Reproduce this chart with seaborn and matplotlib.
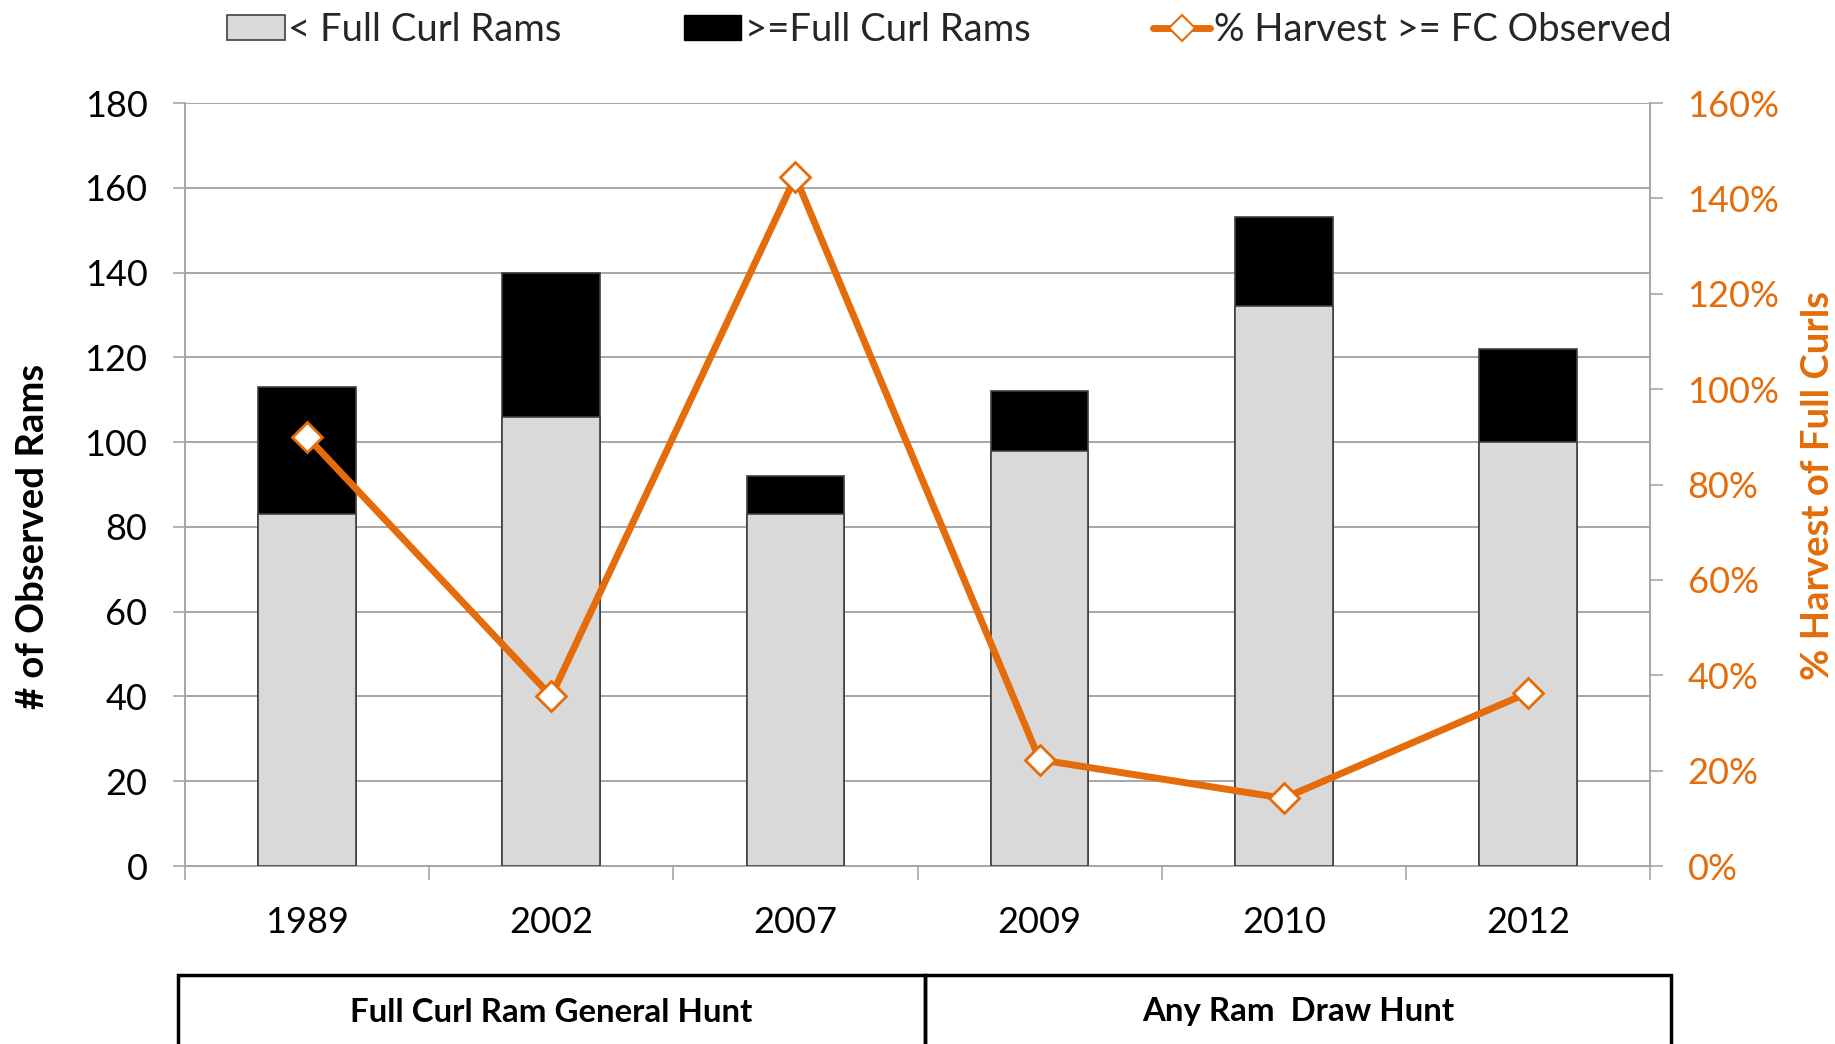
import numpy as np
import pandas as pd
import matplotlib
matplotlib.use("Agg")
import matplotlib.pyplot as plt
import seaborn as sns
from matplotlib.patches import Rectangle, Patch
from matplotlib.lines import Line2D
from matplotlib.ticker import FixedLocator

# --- data -------------------------------------------------------------
years = ["1989", "2002", "2007", "2009", "2010", "2012"]
below_full_curl = [83, 106, 83, 98, 132, 100]      # < full curl rams observed
full_curl_or_more = [30, 34, 9, 14, 21, 22]        # >= full curl rams observed
pct_harvest_fc = [90, 35.6, 144.5, 22.3, 14.2, 36.3]  # % harvest of >= FC observed
hunt_groups = ["Full Curl Ram General Hunt", "Any Ram  Draw Hunt"]
legend_labels = ["< Full Curl Rams", ">=Full Curl Rams", "% Harvest >= FC Observed"]

left_ticks = list(range(0, 181, 20))
right_ticks = list(range(0, 161, 20))

ORANGE = "#E46C0A"
LIGHT = "#D9D9D9"
GRID = "#A6A6A6"
EDGE = "#404040"

sns.set_theme(style="white")
plt.rcParams["font.family"] = ["Lato", "DejaVu Sans"]

df = pd.DataFrame({"year": years, "below": below_full_curl,
                   "fc": full_curl_or_more, "pct": pct_harvest_fc})
df["total"] = df["below"] + df["fc"]

W, H = 1835, 1044
fig = plt.figure(figsize=(W / 100, H / 100), dpi=100)
ax = fig.add_axes([185 / W, 1 - 866 / H, (1650 - 185) / W, (866 - 103) / H])

# stacked bars: full height in black, lower segment in light grey on top
sns.barplot(data=df, x="year", y="total", color="black", saturation=1,
            width=0.4, edgecolor=EDGE, linewidth=1.2, ax=ax, zorder=2)
sns.barplot(data=df, x="year", y="below", color=LIGHT, saturation=1,
            width=0.4, edgecolor=EDGE, linewidth=1.2, ax=ax, zorder=3)

ax.set_ylim(0, 180)
ax.set_xlim(-0.5, len(years) - 0.5)
ax.set_yticks(left_ticks)
ax.set_axisbelow(True)
ax.yaxis.grid(True, color=GRID, linewidth=1.4)
ax.xaxis.grid(False)
ax.set_xlabel("")
ax.set_ylabel("")

ax.set_xticks(range(len(years)))
ax.set_xticklabels(years)
ax.xaxis.set_minor_locator(FixedLocator(np.arange(-0.5, len(years), 1.0)))
ax.tick_params(axis="x", which="major", length=0, pad=29, labelsize=26, colors="black")
ax.tick_params(axis="x", which="minor", length=10, width=1.2, color=GRID, direction="out", bottom=True)
ax.tick_params(axis="y", which="major", length=9, width=1.2, color=GRID, direction="out",
               pad=18, labelsize=26, labelcolor="black", left=True)

for side in ("top", "right"):
    ax.spines[side].set_visible(False)
for side in ("left", "bottom"):
    ax.spines[side].set_color(GRID)
    ax.spines[side].set_linewidth(1.4)

# harvest percentage line on the secondary axis
ax2 = ax.twinx()
sns.pointplot(data=df, x="year", y="pct", ax=ax2, color=ORANGE, markers="D",
              errorbar=None, linewidth=5, markersize=15.5,
              markerfacecolor="white", markeredgecolor=ORANGE, markeredgewidth=2)
ax2.set_ylim(0, 160)
ax2.set_yticks(right_ticks)
ax2.set_yticklabels([f"{t}%" for t in right_ticks])
ax2.tick_params(axis="y", length=9, width=1.2, color=GRID, direction="out",
                pad=18, labelsize=26, labelcolor=ORANGE, right=True)
ax2.set_ylabel("")
ax2.set_xlabel("")
ax2.grid(False)
for side in ("top", "left", "bottom"):
    ax2.spines[side].set_visible(False)
ax2.spines["right"].set_color(GRID)
ax2.spines["right"].set_linewidth(1.4)
ax2.set_xlim(-0.5, len(years) - 0.5)

# axis titles
fig.text(33 / W, 1 - 536 / H, "# of Observed Rams", rotation=90, ha="center", va="center",
         fontsize=27.5, fontweight="bold", color="black")
fig.text(1818 / W, 1 - 486 / H, "% Harvest of Full Curls", rotation=90, ha="center", va="center",
         fontsize=27.5, fontweight="bold", color=ORANGE)

# legend across the top
handles = [
    Patch(facecolor=LIGHT, edgecolor=EDGE, linewidth=1.2),
    Patch(facecolor="black", edgecolor="black"),
    Line2D([], [], color=ORANGE, linewidth=5, marker="D", markersize=13,
           markerfacecolor="white", markeredgecolor=ORANGE, markeredgewidth=1.5),
]
fig.legend(handles, legend_labels, loc="center", bbox_to_anchor=(0.5175, 1 - 30 / H),
           ncol=3, frameon=False, fontsize=27.5, handlelength=1.5, handleheight=0.62,
           handletextpad=0.1, columnspacing=3.2, borderaxespad=0)

# hunt-type boxes below the year labels
box_edges = [178, 925, 1671]
for i, name in enumerate(hunt_groups):
    x0, x1 = box_edges[i], box_edges[i + 1]
    fig.add_artist(Rectangle((x0 / W, -0.05), (x1 - x0) / W, 0.05 + (1044 - 975) / H,
                             transform=fig.transFigure, fill=False, edgecolor="black",
                             linewidth=2.5))
    fig.text((x0 + x1) / 2 / W, 1 - 1012 / H, name, ha="center", va="center",
             fontsize=23.8, fontweight="bold", color="black")

fig.savefig("out.png", dpi=100)
